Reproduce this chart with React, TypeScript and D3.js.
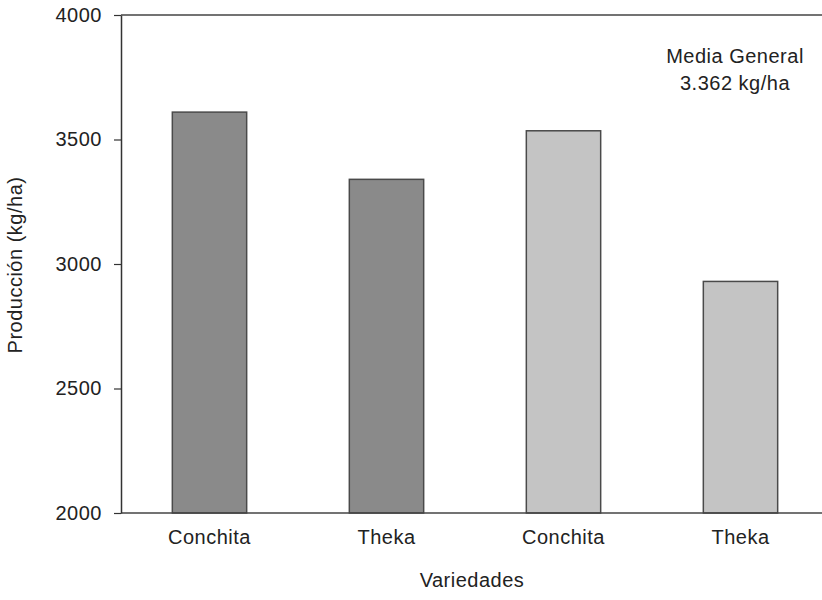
import { useEffect, useRef } from 'react';
import * as d3 from 'd3';

const W = 822;
const H = 600;

// bar data
const categories = ['Conchita', 'Theka', 'Conchita ', 'Theka '];
const labels = ['Conchita', 'Theka', 'Conchita', 'Theka'];
const values = [3610, 3340, 3535, 2930];
const shades = ['#8a8a8a', '#8a8a8a', '#c4c4c4', '#c4c4c4'];
const yTicks = [2000, 2500, 3000, 3500, 4000];

const note = ['Media General', '3.362 kg/ha'];

export default function App() {
  const svgRef = useRef<SVGSVGElement>(null);

  useEffect(() => {
    if (!svgRef.current) return;
    const svg = d3.select(svgRef.current);
    svg.selectAll('*').remove();

    const left = 121;
    const top = 15;
    const bottom = 513;

    const x = d3.scaleBand<string>()
      .domain(categories)
      .range([left, 829])
      .paddingInner(0.58)
      .paddingOuter(0.29);

    const y = d3.scaleLinear().domain([2000, 4000]).range([bottom, top]);

    const font = 'Liberation Sans, Arial, sans-serif';
    const fs = 20;
    const ls = 0.5;

    // bars
    svg.append('g')
      .selectAll('rect')
      .data(values)
      .enter()
      .append('rect')
      .attr('x', (_, i) => x(categories[i])!)
      .attr('y', d => y(d))
      .attr('width', x.bandwidth())
      .attr('height', d => bottom - y(d))
      .attr('fill', (_, i) => shades[i])
      .attr('stroke', '#4a4a4a')
      .attr('stroke-width', 1.5);

    // frame: top and bottom lines reach the right edge
    svg.append('line')
      .attr('x1', left).attr('x2', W)
      .attr('y1', top).attr('y2', top)
      .attr('stroke', '#444').attr('stroke-width', 1.5);
    svg.append('line')
      .attr('x1', left).attr('x2', W)
      .attr('y1', bottom).attr('y2', bottom)
      .attr('stroke', '#444').attr('stroke-width', 1.5);

    // y axis
    const yAxis = svg.append('g')
      .attr('transform', `translate(${left},0)`)
      .call(d3.axisLeft(y).tickValues(yTicks).tickSize(7).tickSizeOuter(0).tickFormat(d3.format('d')));
    yAxis.select('.domain').attr('stroke', '#333').attr('stroke-width', 1.5);
    yAxis.selectAll('.tick line').attr('stroke', '#333').attr('stroke-width', 1.2);
    yAxis.selectAll('.tick text')
      .attr('font-family', font)
      .attr('font-size', fs)
      .attr('letter-spacing', ls)
      .attr('fill', '#222')
      .attr('x', -19);

    // category labels
    svg.append('g')
      .selectAll('text')
      .data(categories)
      .enter()
      .append('text')
      .attr('x', d => x(d)! + x.bandwidth() / 2)
      .attr('y', 544)
      .attr('text-anchor', 'middle')
      .attr('font-family', font)
      .attr('font-size', fs)
      .attr('letter-spacing', ls)
      .attr('fill', '#222')
      .text((_, i) => labels[i]);

    // axis titles
    svg.append('text')
      .attr('x', 472)
      .attr('y', 587)
      .attr('text-anchor', 'middle')
      .attr('font-family', font)
      .attr('font-size', fs)
      .attr('letter-spacing', ls)
      .attr('fill', '#222')
      .text('Variedades');

    svg.append('text')
      .attr('transform', `translate(22,265) rotate(-90)`)
      .attr('text-anchor', 'middle')
      .attr('font-family', font)
      .attr('font-size', fs)
      .attr('letter-spacing', ls)
      .attr('fill', '#222')
      .text('Producción (kg/ha)');

    // note
    svg.append('g')
      .selectAll('text')
      .data(note)
      .enter()
      .append('text')
      .attr('x', 735)
      .attr('y', (_, i) => 63 + i * 27)
      .attr('text-anchor', 'middle')
      .attr('font-family', font)
      .attr('font-size', fs)
      .attr('letter-spacing', ls)
      .attr('fill', '#222')
      .text(d => d);
  }, []);

  return (
    <svg
      ref={svgRef}
      width={W}
      height={H}
      style={{ position: 'absolute', left: 0, top: 0, background: '#fff' }}
    />
  );
}
